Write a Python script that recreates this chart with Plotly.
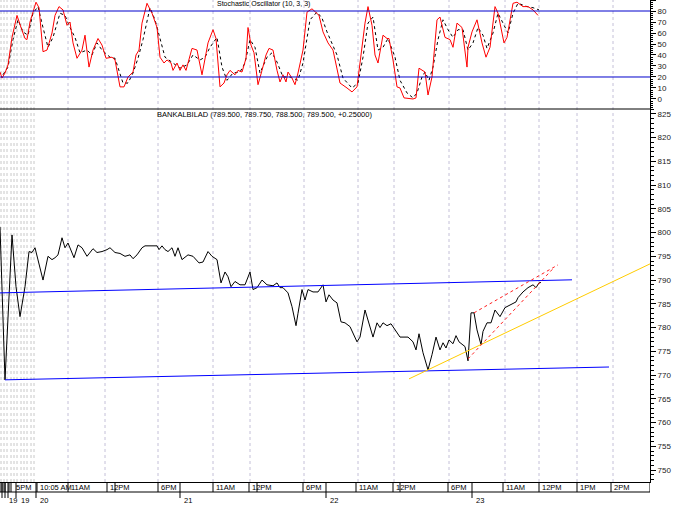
import plotly.graph_objects as go

# ---------------- data ----------------
price_x = [0, 5, 12, 16, 20, 25, 29, 32, 35, 43, 48, 52, 55, 58, 62, 65, 68, 74, 78, 82, 87, 93, 97,
           102, 107, 110, 115, 120, 125, 130, 133, 137, 142, 145, 153, 157, 159, 162, 165, 168, 172,
           175, 178, 182, 188, 193, 199, 203, 208, 212, 217, 221, 225, 228, 231, 235, 240, 245, 250,
           253, 257, 262, 267, 273, 277, 280, 283, 288, 292, 296, 298, 302, 305, 308, 313, 318, 323,
           326, 329, 333, 337, 341, 345, 350, 357, 360, 365, 369, 373, 377, 380, 383, 387, 391, 395,
           400, 408, 413, 416, 419, 423, 428, 432, 436, 440, 443, 446, 449, 453, 456, 459, 465, 468,
           471, 474, 477, 481, 483, 487, 491, 495, 500, 505, 510, 516, 518, 523, 528, 533, 536, 539, 541]
price_y = [801.2, 769.0, 799.5, 788.6, 782.3, 788.6, 796.0, 795.8, 796.8, 790.0, 795.0, 794.3, 794.7,
           795.3, 798.9, 796.8, 797.8, 794.7, 797.4, 796.8, 795.0, 796.6, 795.8, 796.0, 796.4, 796.8,
           795.8, 795.6, 795.0, 795.3, 794.5, 795.3, 796.8, 797.2, 797.2, 797.2, 796.4, 797.2, 796.4,
           796.0, 796.8, 795.0, 796.8, 794.3, 795.3, 795.0, 793.6, 793.8, 796.0, 795.0, 794.3, 789.4,
           791.7, 790.7, 788.6, 789.7, 789.0, 789.0, 791.7, 788.0, 788.4, 790.0, 789.0, 788.8, 789.4,
           788.4, 788.4, 787.3, 784.4, 780.4, 783.0, 788.0, 785.8, 788.0, 787.5, 787.5, 789.0, 785.4,
           786.9, 785.8, 785.2, 781.2, 781.0, 780.2, 777.0, 778.0, 783.7, 781.0, 778.0, 781.0, 780.0,
           781.0, 780.4, 780.8, 779.5, 778.0, 778.0, 777.0, 775.3, 778.7, 774.7, 771.1, 774.3, 778.0,
           775.3, 776.8, 775.7, 777.4, 776.6, 778.3, 777.0, 776.0, 773.0, 783.1, 783.1, 779.5, 776.4,
           779.2, 781.0, 781.0, 783.7, 782.3, 784.2, 784.8, 785.4, 786.3, 787.5, 788.4, 789.0, 788.4,
           789.4, 789.5]

stk_x = [0, 2, 5, 8, 12, 17, 21, 25, 27, 30, 36, 39, 43, 47, 52, 55, 59, 63, 67, 70, 73, 77, 82, 85,
         89, 93, 98, 102, 106, 112, 115, 120, 124, 128, 133, 136, 139, 142, 147, 152, 157, 160, 164,
         167, 171, 173, 177, 180, 183, 186, 192, 197, 202, 205, 208, 213, 216, 220, 224, 227, 230,
         235, 238, 242, 246, 248, 251, 254, 258, 262, 266, 269, 273, 277, 280, 283, 286, 288, 292,
         295, 298, 303, 307, 312, 316, 319, 323, 328, 333, 337, 340, 347, 352, 357, 362, 365, 368,
         372, 375, 378, 383, 387, 389, 393, 397, 400, 404, 413, 416, 419, 425, 428, 432, 437, 440,
         445, 450, 453, 457, 462, 467, 468, 472, 477, 482, 486, 490, 495, 498, 504, 507, 513, 517,
         523, 528, 533, 538]
stk_k = [24.5, 19, 23.6, 31, 56, 76, 65, 55, 54, 70, 88, 83, 43, 44.5, 60, 76, 84, 81, 67, 70, 51, 37,
         44.5, 58, 29, 44.5, 55, 49, 37, 38, 35.5, 11, 11, 20, 24.5, 40, 44.5, 69, 87, 78, 65, 38,
         32.7, 35.5, 32.7, 26, 32.7, 26, 31, 26, 46, 44.5, 22, 35.5, 51, 63, 55, 11, 14.5, 22, 26,
         22, 26, 24.5, 37, 65, 49, 42, 13, 26, 40, 46, 44.5, 26, 15.5, 22, 15.5, 24.5, 19, 13, 23.6,
         44.5, 79, 82, 78, 76, 61, 51, 44.5, 29, 14.5, 10, 6.4, 11, 44.5, 69, 84, 67, 40, 32.7, 58,
         55, 55, 35.5, 11, 10, 1, 0, 1, 28, 24.5, 3.6, 20, 72, 74.5, 56, 54, 47, 69, 65, 29, 47, 61,
         72, 51, 38, 47, 84, 78, 51, 56, 87, 88, 84, 84, 81, 76]

std_x = [3, 8, 13, 18, 23, 28, 33, 38, 43, 48, 53, 60, 65, 70, 75, 80, 87, 92, 97, 102, 110, 115, 123,
         128, 133, 138, 143, 150, 155, 160, 165, 173, 180, 187, 193, 200, 205, 210, 217, 222, 227,
         233, 240, 245, 250, 255, 260, 267, 272, 277, 283, 290, 298, 303, 310, 317, 322, 327, 333,
         337, 343, 352, 358, 363, 368, 373, 378, 383, 388, 395, 400, 407, 413, 417, 422, 425, 429,
         433, 438, 443, 448, 453, 458, 463, 468, 473, 478, 483, 487, 493, 498, 503, 508, 513, 518,
         527, 533, 539]
std_d = [22, 29, 54, 72, 61, 58, 78, 84, 65, 47, 56, 78, 76, 65, 56, 42, 44.5, 40, 51, 44.5, 38, 37,
         14.5, 14.5, 23.6, 37, 54, 83, 72, 56, 38, 32.7, 28, 31, 40, 35.5, 38, 47, 56, 29, 17, 23.6,
         24.5, 32.7, 54, 47, 23.6, 38, 42, 33.6, 20, 20, 17, 32.7, 72, 79, 73.6, 61, 49, 40, 19, 10,
         14.5, 38, 69, 74.5, 44.5, 47, 55, 38, 17, 5.5, 1, 5.5, 20, 24.5, 17, 29, 54, 72, 63, 56, 63,
         63, 44.5, 51, 65, 58, 46, 60, 78, 69, 60, 78, 87, 84, 83, 81]

upper_chan_x = [0, 572]
upper_chan_y = [787.3, 790.05]
lower_chan_x = [5, 609]
lower_chan_y = [769.0, 771.7]
yellow_x = [409, 650]
yellow_y = [769.2, 793.4]
red_up_x = [474, 558]
red_up_y = [783.1, 793.2]
red_lo_x = [468, 553]
red_lo_y = [773.4, 792.4]

stoch_levels = [80, 20]

time_tick_x = [13, 37, 68, 107, 158, 213, 249, 303, 356, 393, 448, 503, 539, 577, 611]
time_tick_lab = ["5PM", "10:05 AM", "11AM", "12PM", "6PM", "11AM", "12PM", "6PM", "11AM", "12PM",
                 "6PM", "11AM", "12PM", "1PM", "2PM"]
extra_sep_x = [1, 3, 5, 9, 11, 115, 257, 400]
day_tick_x = [2, 5, 8, 16, 36, 180, 326, 472]
day_lab_x = [7, 19, 38, 182, 328, 474]
day_lab = ["19", "19", "20", "21", "22", "23"]

grid_x = [68, 105, 158, 213, 250, 304, 358, 394, 449, 505, 539, 577, 613]
dense_grid_x = [1, 4, 7, 11, 14, 17, 21, 24, 27, 31, 34]

title_main = "BANKALBILAD (789.500, 789.750, 788.500, 789.500, +0.25000)"
title_top = "Stochastic Oscillator (10, 3, 3)"

# ---------------- figure ----------------
W, H = 687, 511
L, R, T, B = 0, 37, 0, 29
PH = H - T - B
split = 1 - 109 / PH

def py(px):  # pixel row -> paper y
    return (H - B - px) / PH

FONT = "Liberation Sans, Arial, sans-serif"
fig = go.Figure()

fig.add_trace(go.Scatter(x=price_x, y=price_y, mode="lines", yaxis="y",
                         line=dict(color="#000000", width=1), hoverinfo="skip"))
for xs, ys, col, dash in [(upper_chan_x, upper_chan_y, "#0000ff", "solid"),
                          (lower_chan_x, lower_chan_y, "#0000ff", "solid"),
                          (yellow_x, yellow_y, "#ffcc00", "solid"),
                          (red_up_x, red_up_y, "#ff2020", "dot"),
                          (red_lo_x, red_lo_y, "#ff2020", "dot")]:
    fig.add_trace(go.Scatter(x=xs, y=ys, mode="lines", yaxis="y",
                             line=dict(color=col, width=1, dash=dash), hoverinfo="skip"))

fig.add_trace(go.Scatter(x=std_x, y=std_d, mode="lines", yaxis="y2",
                         line=dict(color="#000000", width=1, dash="dot"), hoverinfo="skip"))
fig.add_trace(go.Scatter(x=stk_x, y=stk_k, mode="lines", yaxis="y2",
                         line=dict(color="#ff0000", width=1), hoverinfo="skip"))

shapes = []
for gx in grid_x:
    shapes.append(dict(type="line", xref="x", yref="paper", x0=gx, x1=gx, y0=0, y1=1,
                       line=dict(color="#c4c0d8", width=1, dash="dot"), layer="below"))
for gx in dense_grid_x:
    shapes.append(dict(type="line", xref="x", yref="paper", x0=gx, x1=gx, y0=0, y1=1,
                       line=dict(color="#c8c8c8", width=1, dash="dot"), layer="below"))
for lv in stoch_levels:
    shapes.append(dict(type="line", xref="paper", yref="y2", x0=0, x1=1, y0=lv, y1=lv,
                       line=dict(color="#0000cc", width=1)))
# separator between panels
shapes.append(dict(type="line", xref="paper", yref="paper", x0=0, x1=1, y0=split, y1=split,
                   line=dict(color="#000000", width=1)))
# time axis box
shapes.append(dict(type="line", xref="x", yref="paper", x0=0, x1=650, y0=py(492), y1=py(492),
                   line=dict(color="#000000", width=1)))
for sx in time_tick_x[1:] + extra_sep_x + [650]:
    shapes.append(dict(type="line", xref="x", yref="paper", x0=sx, x1=sx, y0=py(482), y1=py(492),
                       line=dict(color="#000000", width=1)))
for dx in day_tick_x:
    shapes.append(dict(type="line", xref="x", yref="paper", x0=dx, x1=dx, y0=py(482), y1=py(498),
                       line=dict(color="#000000", width=1)))

annotations = []
for tx, tl in zip(time_tick_x, time_tick_lab):
    annotations.append(dict(x=tx + 1, y=py(487.5), xref="x", yref="paper", text=tl,
                            showarrow=False, xanchor="left", yanchor="middle",
                            font=dict(family=FONT, size=7.5, color="#000000")))
for dx, dl in zip(day_lab_x, day_lab):
    annotations.append(dict(x=dx, y=py(500), xref="x", yref="paper", text=dl,
                            showarrow=False, xanchor="left", yanchor="middle",
                            font=dict(family=FONT, size=7.5, color="#000000")))
annotations.append(dict(x=155, y=py(114), xref="x", yref="paper", text=title_main,
                        showarrow=False, xanchor="left", yanchor="middle",
                        font=dict(family=FONT, size=7.5, color="#000000")))
annotations.append(dict(x=215, y=py(4.5), xref="x", yref="paper", text=title_top,
                        showarrow=False, xanchor="left", yanchor="middle",
                        font=dict(family=FONT, size=7, color="#000000")))

fig.update_layout(
    width=W, height=H, margin=dict(l=L, r=R, t=T, b=B),
    paper_bgcolor="#ffffff", plot_bgcolor="#ffffff",
    showlegend=False, shapes=shapes, annotations=annotations,
    font=dict(family=FONT, size=8, color="#000000"),
    xaxis=dict(range=[0, 650], showgrid=False, zeroline=False, showticklabels=False,
               showline=True, linecolor="#000000", linewidth=1, ticks="", fixedrange=True),
    yaxis=dict(domain=[0, split], range=[747.5, 826], side="right", anchor="x",
               showgrid=False, zeroline=False, showline=True, linecolor="#000000",
               ticks="outside", ticklen=5, tickcolor="#000000", dtick=5, tick0=750,
               minor=dict(dtick=1, ticklen=3, ticks="outside", tickcolor="#000000"),
               tickfont=dict(family=FONT, size=8, color="#222222")),
    yaxis2=dict(domain=[split, 1], range=[-9.1, 90], side="right", anchor="x",
                showgrid=False, zeroline=False, showline=True, linecolor="#000000",
                ticks="outside", ticklen=5, tickcolor="#000000", dtick=10, tick0=0,
                minor=dict(dtick=2, ticklen=2, ticks="outside", tickcolor="#000000"),
                tickfont=dict(family=FONT, size=8, color="#222222")),
)

fig.write_html("out.html", config={"displayModeBar": False},
               post_script="document.body.style.margin='0';")
